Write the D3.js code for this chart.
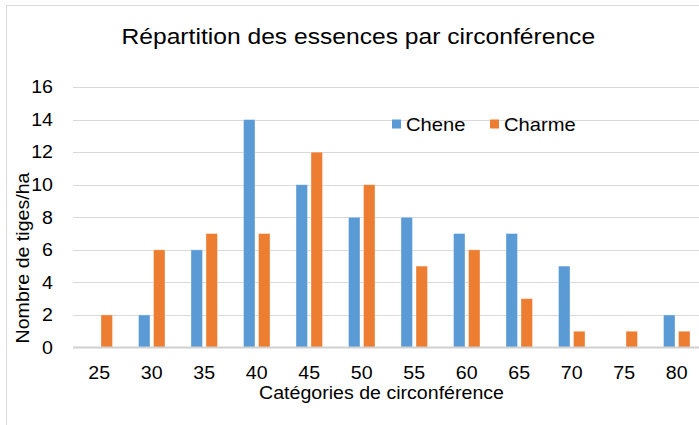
<!DOCTYPE html>
<html>
<head>
    <meta charset="utf-8">
    <title>Répartition des essences par circonférence</title>
    <style>
        body {
            margin: 0;
            background-color: #ffffff;
        }
        svg {
            display: block;
            font-family: 'Liberation Sans', Arial, sans-serif;
        }
        .grid line {
            stroke: #d9d9d9;
            stroke-width: 1px;
        }
        .tick-label {
            fill: #000000;
            font-size: 17.5px;
        }
    </style>
</head>
<body>
    <svg width="699" height="425"></svg>

<script src="https://d3js.org/d3.v7.min.js"></script>
<script>
    let categories = ["25", "30", "35", "40", "45", "50", "55", "60", "65", "70", "75", "80"]
    let chene = [0, 2, 6, 14, 10, 8, 8, 7, 7, 5, 0, 2]
    let charme = [2, 6, 7, 7, 12, 10, 5, 6, 3, 1, 1, 1]
    let seriesNames = ["Chene", "Charme"]
    let yTicks = [0, 2, 4, 6, 8, 10, 12, 14, 16]

    let colors = { Chene: "#5b9bd5", Charme: "#ed7d31" }

    let width = 699
    let height = 425
    let margin = { top: 87, right: -4, bottom: 77, left: 73 }
    // fonts in the reference run a bit wider than Arial
    let stretch = 1.12

    let svg = d3.select("svg")

    let data = categories.map((c, i) => ({ cat: c, Chene: chene[i], Charme: charme[i] }))

    // outer frame
    svg.append("rect")
        .attr("x", 6.5)
        .attr("y", 5.5)
        .attr("width", width + 20)
        .attr("height", height + 20)
        .attr("fill", "none")
        .attr("stroke", "#d9d9d9")
        .attr("stroke-width", 1)

    let x = d3.scaleBand()
        .domain(categories)
        .range([margin.left, width - margin.right])
        .paddingInner(0.495)
        .paddingOuter(0.2475)

    let xInner = d3.scaleBand()
        .domain(seriesNames)
        .range([0, x.bandwidth()])
        .paddingInner(0.233)

    let y = d3.scaleLinear()
        .domain([0, 16])
        .range([height - margin.bottom - 0.5, margin.top])

    // gridlines
    svg.append("g")
        .attr("class", "grid")
        .selectAll("line")
        .data(yTicks.filter(d => d > 0))
        .join("line")
        .attr("x1", margin.left)
        .attr("x2", width)
        .attr("y1", d => Math.round(y(d)) + 0.5)
        .attr("y2", d => Math.round(y(d)) + 0.5)

    // bars
    let groups = svg.append("g")
        .selectAll("g")
        .data(data)
        .join("g")
        .attr("transform", d => `translate(${x(d.cat)},0)`)

    groups.selectAll("rect")
        .data(d => seriesNames.map(s => ({ key: s, value: d[s] })))
        .join("rect")
        .attr("x", d => xInner(d.key))
        .attr("width", xInner.bandwidth())
        .attr("y", d => y(d.value))
        .attr("height", d => y(0) - y(d.value))
        .attr("fill", d => colors[d.key])
        .attr("stroke", "#ffffff")
        .attr("stroke-opacity", 0.45)
        .attr("stroke-width", 0.8)

    // baseline
    svg.append("line")
        .attr("x1", margin.left)
        .attr("x2", width)
        .attr("y1", y(0))
        .attr("y2", y(0))
        .attr("stroke", "#d0d0d0")
        .attr("stroke-width", 2)

    // helper: stretched text
    function label(xPos, yPos, txt, size, anchor, rotate) {
        let g = svg.append("g")
            .attr("transform", `translate(${xPos},${yPos})` + (rotate ? ` rotate(${rotate})` : "") + ` scale(${stretch},1)`)
        g.append("text")
            .attr("text-anchor", anchor)
            .attr("font-size", size + "px")
            .attr("fill", "#000")
            .text(txt)
        return g
    }

    // y tick labels
    yTicks.forEach(t => {
        label(53, y(t) + 6.3, t, 17.5, "end")
    })

    // x tick labels
    categories.forEach(c => {
        label(x(c) + x.bandwidth() / 2, 379.3, c, 17.5, "middle")
    })

    // title
    label(121.5, 44.3, "Répartition des essences par circonférence", 22, "start")

    // axis titles
    label(381.5, 398.7, "Catégories de circonférence", 17.5, "middle")
    label(28.5, 258, "Nombre de tiges/ha", 17.5, "middle", -90)

    // legend
    let legendX = [392, 490]
    seriesNames.forEach((s, i) => {
        svg.append("rect")
            .attr("x", legendX[i])
            .attr("y", 119.5)
            .attr("width", 9)
            .attr("height", 9)
            .attr("fill", colors[s])
        label(legendX[i] + 14, 130.7, s, 18, "start")
    })
</script>
</body>
</html>
